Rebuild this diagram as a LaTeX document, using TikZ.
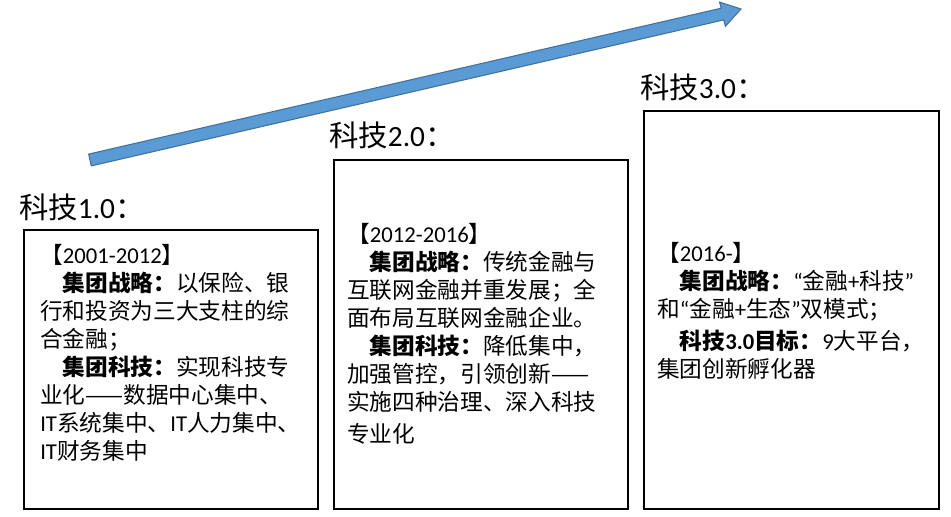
\documentclass[tikz,border=0pt]{standalone}
\usepackage{fontspec}
\setmainfont{Noto Sans CJK SC}
\newfontfamily\lat{Carlito}
\usepackage{tikz}
\usepackage{xcolor}
\usetikzlibrary{positioning}
\usetikzlibrary{calc}

\definecolor{arrowblue}{RGB}{91,155,213}
\definecolor{arrowedge}{RGB}{65,113,156}

\tikzset{
  stagebox/.style={draw=black, line width=1.3pt, inner sep=0pt, anchor=north west},
  stagelabel/.style={inner sep=0pt, anchor=west, font=\fontsize{22}{26}\selectfont},
  stagetext/.style={inner sep=0pt, anchor=north west, align=left, font=\fontsize{17}{21}\selectfont}
}

\begin{document}
\begin{tikzpicture}[x=0.75pt, y=-0.75pt]

\fill[white] (0,0) rectangle (951,517);
\useasboundingbox (0,0) rectangle (951,517);

% growth arrow
\coordinate (atail) at (90,160);
\coordinate (atip) at (741,9);
\filldraw[fill=arrowblue, draw=arrowedge, line width=0.8pt]
  (91.3,165.9) -- (723.8,19.9) -- (725.4,26.3) -- (atip)
  -- (719.6,2.1) -- (721.2,8.2) -- (88.7,154.1) -- cycle;

\node[stagelabel] (lbl1) at (19,207) {科技{\lat 1.0}：};
\node[stagelabel] (lbl2) at (329,135) {科技{\lat 2.0}：};
\node[stagelabel] (lbl3) at (640,87) {科技{\lat 3.0}：};

\node[stagebox, minimum width=220.5pt, minimum height=209.25pt] (box1) at (23,229) {};
\node[stagebox, minimum width=220.5pt, minimum height=261.75pt] (box2) at (333,159) {};
\node[stagebox, minimum width=221.25pt, minimum height=298.5pt] (box3) at (643,110) {};

\node[stagetext] (txt1) at (40,244) {【{\lat 2001-2012}】\\
\hspace{1em}\textbf{集团战略：}以保险、银\\
行和投资为三大支柱的综\\
合金融；\\
\hspace{1em}\textbf{集团科技：}实现科技专\\
业化——数据中心集中、\\
{\lat IT}系统集中、{\lat IT}人力集中、\\
{\lat IT}财务集中};

\node[stagetext] (txt2) at (347,223) {【{\lat 2012-2016}】\\
\hspace{1em}\textbf{集团战略：}传统金融与\\
互联网金融并重发展；全\\
面布局互联网金融企业。\\
\hspace{1em}\textbf{集团科技：}降低集中，\\
加强管控，引领创新——\\
实施四种治理、深入科技\\[3pt]
专业化};

\node[stagetext] (txt3) at (657,242) {【{\lat 2016-}】\\
\hspace{1em}\textbf{集团战略：}{\lat “}金融{\lat +}科技{\lat ”}\\
和{\lat “}金融{\lat +}生态{\lat ”}双模式；\\[3pt]
\hspace{1em}\textbf{科技{\lat 3.0}目标：}{\lat 9}大平台，\\
集团创新孵化器};

\end{tikzpicture}
\end{document}
